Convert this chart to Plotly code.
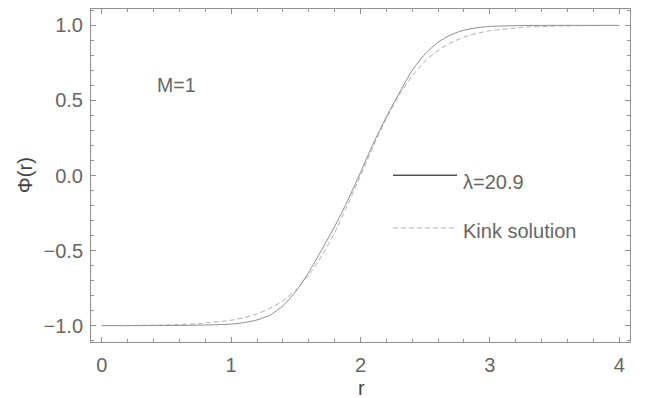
import plotly.graph_objects as go

# radial coordinate samples
r_vals = [0.0, 0.25, 0.5, 0.75, 1.0, 1.1, 1.2, 1.3, 1.4, 1.5, 1.6, 1.7, 1.8, 1.9,
          2.0, 2.1, 2.2, 2.3, 2.4, 2.5, 2.6, 2.7, 2.8, 2.9, 3.0, 3.25, 3.5, 3.75, 4.0]

# numerical solution, lambda = 20.9
phi_lambda = [-1.000, -1.000, -0.999, -0.997, -0.990, -0.980, -0.962, -0.930, -0.868, -0.772,
              -0.645, -0.495, -0.340, -0.168, 0.020, 0.215, 0.390, 0.550, 0.700, 0.810,
              0.888, 0.938, 0.968, 0.984, 0.993, 0.999, 1.000, 1.000, 1.000]

# kink solution
phi_kink = [-0.999, -0.998, -0.995, -0.987, -0.964, -0.947, -0.922, -0.885, -0.834, -0.762,
            -0.664, -0.537, -0.380, -0.197, 0.000, 0.197, 0.380, 0.537, 0.664, 0.762,
            0.834, 0.885, 0.922, 0.947, 0.964, 0.987, 0.995, 0.998, 0.999]

series_names = ["λ=20.9", "Kink solution"]
x_ticks = [0, 1, 2, 3, 4]
y_ticks = [-1.0, -0.5, 0.0, 0.5, 1.0]
y_tick_text = ["−1.0", "−0.5", "0.0", "0.5", "1.0"]

FONT = "Liberation Sans, Arial, sans-serif"
GRAY = "#666666"
FRAME = "#909090"

fig = go.Figure()
fig.add_trace(go.Scatter(x=r_vals, y=phi_lambda, mode="lines", name=series_names[0],
                         line=dict(color="#707070", width=0.8, shape="spline", smoothing=0.6)))
fig.add_trace(go.Scatter(x=r_vals, y=phi_kink, mode="lines", name=series_names[1],
                         line=dict(color="#9a9a9a", width=0.8, dash="5px,3px",
                                   shape="spline", smoothing=0.6)))

# legend drawn Mathematica-style
fig.add_shape(type="line", x0=2.251, x1=2.746, y0=0.002, y1=0.002,
              line=dict(color="black", width=1))
fig.add_shape(type="line", x0=2.251, x1=2.746, y0=-0.349, y1=-0.349,
              line=dict(color="#b8b8b8", width=1, dash="5px,3px"))
fig.add_annotation(x=2.78, y=-0.043, text=series_names[0], showarrow=False,
                   xanchor="left", yanchor="middle", font=dict(family=FONT, size=20, color=GRAY))
fig.add_annotation(x=2.78, y=-0.371, text=series_names[1], showarrow=False,
                   xanchor="left", yanchor="middle", font=dict(family=FONT, size=20, color=GRAY))
fig.add_annotation(x=0.41, y=0.602, text="M=1", showarrow=False,
                   xanchor="left", yanchor="middle", font=dict(family=FONT, size=19.5, color=GRAY))

# axis titles
fig.add_annotation(xref="paper", yref="paper", x=(361 - 91) / 539, y=(341.7 - 388) / 332.7,
                   text="r", showarrow=False, xanchor="center", yanchor="middle",
                   font=dict(family=FONT, size=20, color="#444444"))
fig.add_annotation(xref="paper", yref="paper", x=(25 - 91) / 539, y=(341.7 - 175) / 332.7,
                   text="Φ(r)", showarrow=False, textangle=-90, xanchor="center", yanchor="middle",
                   font=dict(family=FONT, size=20, color="#444444"))

axis_common = dict(showgrid=False, zeroline=False, showline=True, linecolor=FRAME, linewidth=1,
                   mirror="ticks", ticks="inside", tickcolor=FRAME, tickwidth=1, ticklen=5,
                   tickfont=dict(family=FONT, size=20, color=GRAY))

fig.update_xaxes(range=[-0.0833, 4.0833], tickvals=x_ticks,
                 minor=dict(dtick=0.2, ticks="inside", ticklen=3, tickcolor=FRAME, tickwidth=1),
                 ticklabelstandoff=5, **axis_common)
fig.update_yaxes(range=[-1.109, 1.109], tickvals=y_ticks, ticktext=y_tick_text,
                 minor=dict(dtick=0.1, ticks="inside", ticklen=3, tickcolor=FRAME, tickwidth=1),
                 ticklabelstandoff=3, **axis_common)

fig.update_layout(width=646, height=398, margin=dict(l=91, r=16, t=9, b=56, autoexpand=False),
                  plot_bgcolor="white", paper_bgcolor="white", showlegend=False)

fig.write_html("out.html", config={"displayModeBar": False},
               post_script="document.body.style.margin='0px';document.body.style.overflow='hidden';")
